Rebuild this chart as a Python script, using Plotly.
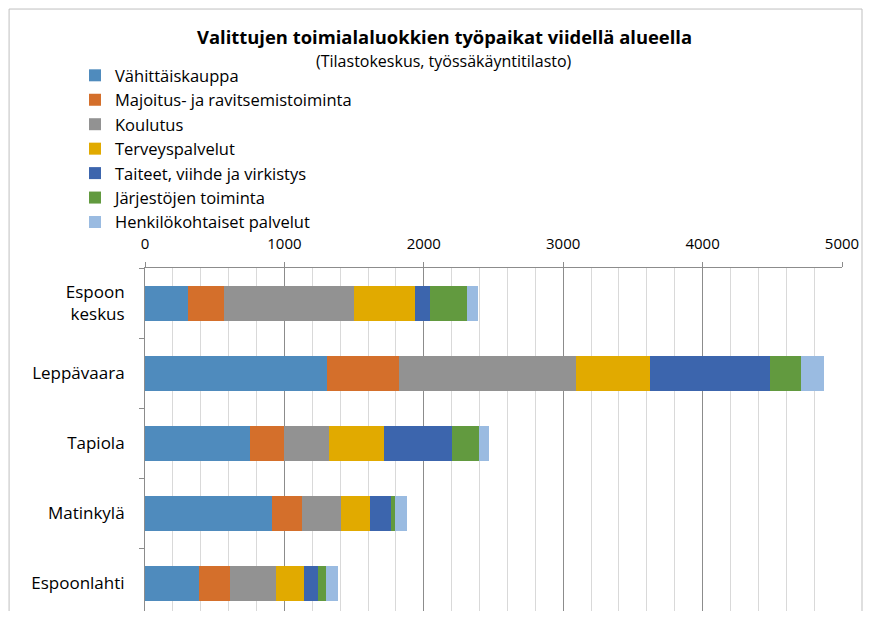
import plotly.graph_objects as go

areas = ["Espoon<br>keskus", "Leppävaara", "Tapiola", "Matinkylä", "Espoonlahti"]
series_names = [
    "Vähittäiskauppa",
    "Majoitus- ja ravitsemistoiminta",
    "Koulutus",
    "Terveyspalvelut",
    "Taiteet, viihde ja virkistys",
    "Järjestöjen toiminta",
    "Henkilökohtaiset palvelut",
]
vahittaiskauppa = [309, 1306, 754, 911, 386]
majoitus = [258, 516, 241, 213, 222]
koulutus = [932, 1269, 323, 282, 332]
terveys = [438, 529, 396, 211, 199]
taiteet = [105, 867, 486, 148, 102]
jarjestot = [270, 216, 194, 28, 60]
henkilo = [74, 169, 71, 86, 81]
colors = ["#4f8bbd", "#d46f2b", "#929292", "#e1aa00", "#3c65ad", "#629a3f", "#9abbe1"]

series_values = [vahittaiskauppa, majoitus, koulutus, terveys, taiteet, jarjestot, henkilo]

FONT = "Open Sans"

fig = go.Figure()
for name, vals, col in zip(series_names, series_values, colors):
    fig.add_trace(go.Bar(
        y=areas, x=vals, name=name, orientation="h",
        marker=dict(color=col, line=dict(width=0)),
    ))

fig.update_layout(
    width=856, height=603,
    margin=dict(l=137, r=22, t=260, b=0, autoexpand=False),
    barmode="stack", bargap=0.5,
    plot_bgcolor="white", paper_bgcolor="white",
    font=dict(family=FONT, size=15, color="#000000"),
    showlegend=True,
    legend=dict(
        x=-0.1004, y=1.612, xanchor="left", yanchor="top",
        traceorder="normal", font=dict(size=16.5, family=FONT),
        bgcolor="rgba(0,0,0,0)",
    ),
    xaxis=dict(
        side="top", range=[0, 5000], dtick=1000, tick0=0,
        showgrid=True, gridcolor="#8c8c8c", gridwidth=1,
        minor=dict(dtick=200, showgrid=True, gridcolor="#d9d9d9", gridwidth=1),
        showline=True, linecolor="#8c8c8c", linewidth=1,
        ticks="outside", ticklen=5, tickcolor="#8c8c8c",
        tickfont=dict(size=15, family=FONT), ticklabelstandoff=7,
        zeroline=False, fixedrange=True,
    ),
    yaxis=dict(
        categoryorder="array", categoryarray=areas,
        autorange=False, range=[4.4, -0.5],
        showline=True, linecolor="#8c8c8c", linewidth=1,
        ticks="outside", ticklen=5, tickcolor="#8c8c8c", tickson="boundaries",
        tickfont=dict(size=17, family=FONT), ticklabelstandoff=16,
        showgrid=False, zeroline=False,
    ),
    annotations=[
        dict(text="<b>Valittujen toimialaluokkien työpaikat viidellä alueella</b>",
             xref="paper", yref="paper", x=0.429, y=1.6735, xanchor="center", yanchor="middle",
             showarrow=False, font=dict(size=18.4, family=FONT)),
        dict(text="(Tilastokeskus, työssäkäyntitilasto)",
             xref="paper", yref="paper", x=0.429, y=1.6035, xanchor="center", yanchor="middle",
             showarrow=False, font=dict(size=16, family=FONT)),
    ],
    shapes=[
        dict(type="rect", xref="paper", yref="paper", x0=-0.195, x1=1.0287, y0=-0.2, y1=1.755,
             line=dict(color="#bfbfbf", width=1), fillcolor="rgba(0,0,0,0)", layer="below"),
    ],
)

fig.write_html("out.html")
